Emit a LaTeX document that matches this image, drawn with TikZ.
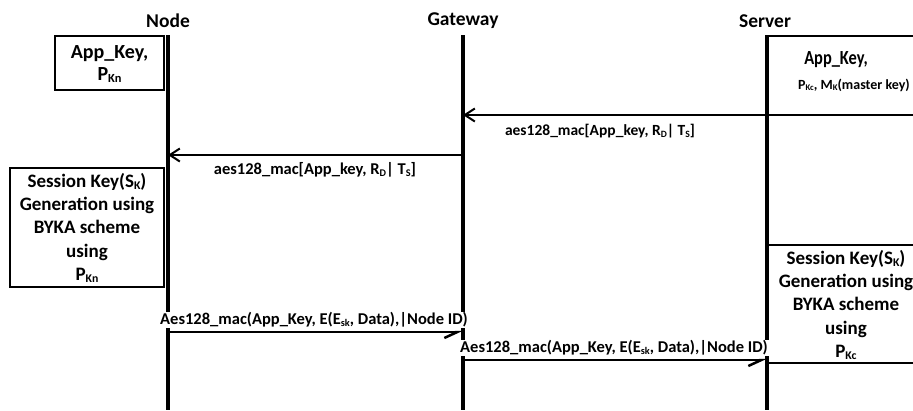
\documentclass[tikz,border=0pt]{standalone}
\usepackage{fontspec}
\setmainfont{Carlito}
\usepackage{graphicx}
\usetikzlibrary{arrows.meta}
% small lowered letters used for key indices
\newcommand\lo[1]{\raisebox{-0.12em}{\scalebox{0.62}{#1}}}
% horizontally narrowed text
\newcommand\narrow[1]{\scalebox{0.82}[1]{#1}}
\begin{document}
\begin{tikzpicture}[x=1pt,y=-1pt,
  title/.style={font=\bfseries\fontsize{19.5}{19.5}\selectfont, inner sep=0},
  lifeline/.style={line width=4pt},
  boxline/.style={line width=1.2pt},
  notetext/.style={align=center, font=\bfseries\fontsize{19}{23.3}\selectfont, inner sep=0},
  msglabel/.style={font=\bfseries\fontsize{16.5}{16.5}\selectfont, inner sep=1pt},
  backarrow/.style={line width=2pt, -{Straight Barb[length=10pt,width=13pt,line width=2pt]}},
  fwdarrow/.style={line width=2pt, -{Straight Barb[right,length=13pt,width=12pt,line width=2.5pt]}},
]
\useasboundingbox (0,0) rectangle (913,410);
\clip (0,0) rectangle (913,410);
\fill[white] (0,0) rectangle (913,410);

% participants
\node[title] (nodeT) at (168,21) {Node};
\node[title] (gwT) at (463,21) {Gateway};
\node[title] (srvT) at (765,21) {Server};

\coordinate (nodeTop) at (168,35);
\coordinate (nodeBot) at (168,410);
\coordinate (gwTop) at (463,35);
\coordinate (gwBot) at (463,410);
\coordinate (srvTop) at (767,35);
\coordinate (srvBot) at (767,410);

\draw[lifeline] (nodeTop) -- (nodeBot);
\draw[lifeline] (gwTop) -- (gwBot);
\draw[lifeline] (srvTop) -- (srvBot);

% key material held by each side
\draw[boxline] (55,36) rectangle (164,90);
\node[notetext, font=\bfseries\fontsize{20}{22}\selectfont] (keyN) at (109.5,64) {App\_Key,\\P\lo{Kn}};

\draw[boxline] (913,36) -- (767,36) -- (767,115) -- (913,115);
\node[notetext, font=\bfseries\fontsize{20}{20}\selectfont] (keyS1) at (836,60) {\narrow{App\_Key,}};
\node[notetext, font=\bfseries\fontsize{14}{14}\selectfont] (keyS2) at (854,85) {P\lo{Kc}, M\lo{K}(master key)};

% session key generation
\draw[boxline] (10,168) rectangle (164,287);
\node[notetext] (skN) at (87,228) {Session Key(S\lo{K})\\Generation using\\BYKA scheme\\using\\P\lo{Kn}};

\draw[boxline] (913,245) -- (767,245) -- (767,363) -- (913,363);
\node[notetext] (skS) at (846,305) {Session Key(S\lo{K})\\Generation using\\BYKA scheme\\using\\P\lo{Kc}};

% messages
\coordinate (m1a) at (767,115);
\coordinate (m1b) at (463,115);
\coordinate (m2a) at (463,155);
\coordinate (m2b) at (168,155);
\coordinate (m3a) at (168,332);
\coordinate (m3b) at (463,332);
\coordinate (m4a) at (463,360);
\coordinate (m4b) at (767,360);

\draw[backarrow] (m1a) -- (m1b);
\node[msglabel, font=\bfseries\fontsize{15.5}{15.5}\selectfont] (l1) at (600,131) {aes128\_mac[App\_key, R\lo{D}| T\lo{S}]};

\draw[backarrow] (m2a) -- (m2b);
\node[msglabel] (l2) at (315,170) {aes128\_mac[App\_key, R\lo{D}| T\lo{S}]};

\draw[fwdarrow] (m3a) -- (m3b);
\node[msglabel, fill=white] (l3) at (314,320) {Aes128\_mac(App\_Key, E(E\lo{sk}, Data),|Node ID)};

\draw[fwdarrow] (m4a) -- (m4b);
\node[msglabel, fill=white] (l4) at (614,348) {Aes128\_mac(App\_Key, E(E\lo{sk}, Data),|Node ID)};
\end{tikzpicture}
\end{document}
